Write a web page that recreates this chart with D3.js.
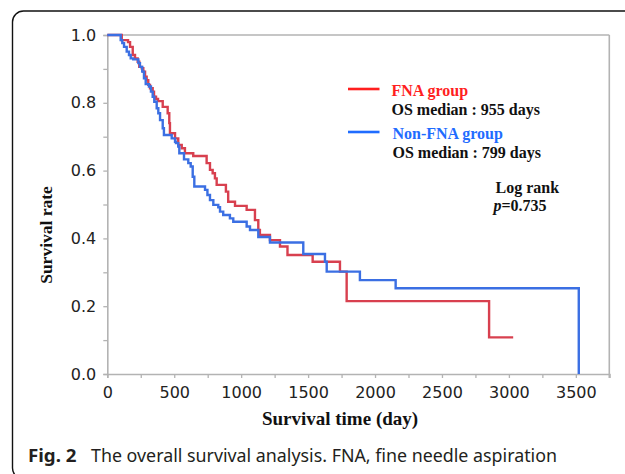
<!DOCTYPE html>
<html>
<head>
<meta charset="utf-8">
<script src="https://cdn.jsdelivr.net/npm/d3@7"></script>
<style>
  html, body { margin: 0; padding: 0; background: #fff; }
  svg { display: block; }
</style>
</head>
<body>
<svg id="chart" width="625" height="474"></svg>
<script>
// ---------------- data ----------------
// FNA group: times (days) at which survival steps, and survival after each step
const fnaTimes = [0, 108, 155, 170, 190, 207, 227, 239, 257, 269, 282, 294, 306, 319, 339, 349, 364, 379, 414, 451, 463, 468, 506, 530, 556, 580, 642, 742, 767, 787, 804, 817, 886, 903, 954, 1041, 1103, 1128, 1140, 1215, 1290, 1346, 1534, 1738, 1788, 2852, 3032];
const fnaSurv  = [1.0, 0.985, 0.979, 0.965, 0.941, 0.931, 0.921, 0.906, 0.902, 0.892, 0.877, 0.867, 0.853, 0.843, 0.833, 0.818, 0.811, 0.805, 0.788, 0.769, 0.740, 0.710, 0.695, 0.676, 0.666, 0.651, 0.643, 0.622, 0.602, 0.592, 0.577, 0.558, 0.538, 0.508, 0.496, 0.484, 0.454, 0.425, 0.410, 0.395, 0.376, 0.351, 0.331, 0.302, 0.215, 0.108, 0.108];

// Non-FNA group
const nonFnaTimes = [0, 100, 112, 125, 145, 162, 175, 194, 232, 244, 261, 274, 287, 311, 326, 339, 351, 369, 381, 394, 414, 423, 481, 506, 513, 530, 538, 573, 605, 623, 638, 650, 730, 748, 767, 792, 829, 842, 866, 916, 941, 1041, 1066, 1128, 1215, 1464, 1626, 1639, 1887, 2154, 3522];
const nonFnaSurv  = [1.0, 0.985, 0.976, 0.965, 0.951, 0.941, 0.931, 0.928, 0.917, 0.906, 0.892, 0.872, 0.855, 0.848, 0.833, 0.818, 0.803, 0.784, 0.769, 0.749, 0.725, 0.705, 0.695, 0.685, 0.681, 0.671, 0.651, 0.633, 0.622, 0.612, 0.582, 0.553, 0.543, 0.528, 0.513, 0.499, 0.492, 0.479, 0.469, 0.459, 0.449, 0.435, 0.425, 0.404, 0.388, 0.354, 0.331, 0.302, 0.277, 0.253, 0.0];

const xDomain = [0, 3750];
const yDomain = [0, 1];
const xTickValues = [0, 250, 500, 750, 1000, 1250, 1500, 1750, 2000, 2250, 2500, 2750, 3000, 3250, 3500, 3750];
const xTickLabels = [0, 500, 1000, 1500, 2000, 2500, 3000, 3500];
const yTickValues = [0, 0.1, 0.2, 0.3, 0.4, 0.5, 0.6, 0.7, 0.8, 0.9, 1.0];
const yTickLabels = [0, 0.2, 0.4, 0.6, 0.8, 1.0];

const groupNames = ["FNA group", "Non-FNA group"];
const medianTexts = ["OS median : 955 days", "OS median : 799 days"];
const xTitle = "Survival time (day)";
const yTitle = "Survival rate";
const captionBold = "Fig. 2";
const captionText = "The overall survival analysis. FNA, fine needle aspiration";

// ---------------- drawing ----------------
(function () {
const svg = d3.select("#chart");
const pLeft = 107.3, pRight = 609.3, pTop = 35, pBottom = 374;

const x = d3.scaleLinear().domain(xDomain).range([pLeft, pRight]);
const y = d3.scaleLinear().domain(yDomain).range([pBottom, pTop]);

// outer rounded frame
svg.append("rect")
  .attr("x", 12.5).attr("y", 11).attr("width", 700).attr("height", 468)
  .attr("rx", 11).attr("ry", 11)
  .attr("fill", "none").attr("stroke", "#111").attr("stroke-width", 1.4);

const axisColor = "#b3b3b3";
const tickFont = "'DejaVu Sans', Verdana, sans-serif";

// top and right plot borders
svg.append("line").attr("x1", pLeft).attr("x2", pRight).attr("y1", pTop).attr("y2", pTop)
  .attr("stroke", axisColor).attr("stroke-width", 1.6);
svg.append("line").attr("x1", pRight).attr("x2", pRight).attr("y1", pTop).attr("y2", pBottom + 4)
  .attr("stroke", axisColor).attr("stroke-width", 1.6);

// x axis
const xAxis = d3.axisBottom(x)
  .tickValues(xTickValues)
  .tickSize(4)
  .tickPadding(9)
  .tickFormat(d => xTickLabels.includes(d) ? String(d) : "");
const gx = svg.append("g").attr("transform", `translate(0,${pBottom})`).call(xAxis);
gx.select(".domain").attr("stroke", axisColor).attr("stroke-width", 1.6);
gx.selectAll(".tick line").attr("stroke", axisColor).attr("stroke-width", 1.3);
gx.selectAll(".tick text").attr("fill", "#222").style("font-family", tickFont).style("font-size", "16px");

// y axis
const yAxis = d3.axisLeft(y)
  .tickValues(yTickValues)
  .tickSize(4)
  .tickPadding(7)
  .tickFormat(d => yTickLabels.some(v => Math.abs(v - d) < 1e-9) ? d3.format(".1f")(d) : "");
const gy = svg.append("g").attr("transform", `translate(${pLeft},0)`).call(yAxis);
gy.select(".domain").attr("stroke", axisColor).attr("stroke-width", 1.6);
gy.selectAll(".tick line").attr("stroke", axisColor).attr("stroke-width", 1.3);
gy.selectAll(".tick text").attr("fill", "#222").style("font-family", tickFont).style("font-size", "16px");

// curves
const line = d3.line().x(d => x(d[0])).y(d => y(d[1])).curve(d3.curveStepAfter);
const fnaData = fnaTimes.map((t, i) => [t, fnaSurv[i]]);
const nonFnaData = nonFnaTimes.map((t, i) => [t, nonFnaSurv[i]]);

svg.append("path").datum(fnaData).attr("d", line)
  .attr("fill", "none").attr("stroke", "#d8404f").attr("stroke-width", 2.4);
svg.append("path").datum(nonFnaData).attr("d", line)
  .attr("fill", "none").attr("stroke", "#3b6fe3").attr("stroke-width", 2.4);

// axis titles
const serif = "'Liberation Serif', 'Times New Roman', serif";
svg.append("text").attr("x", 340).attr("y", 425)
  .attr("text-anchor", "middle")
  .style("font-family", serif).style("font-weight", "bold").style("font-size", "19px")
  .attr("fill", "#111").text(xTitle);
svg.append("text").attr("transform", "translate(51.5,235) rotate(-90)")
  .attr("text-anchor", "middle")
  .style("font-family", serif).style("font-weight", "bold").style("font-size", "17.5px")
  .attr("fill", "#111").text(yTitle);

// legend
const legendColors = ["#ff1f1f", "#1f6cff"];
const legendLineY = [89, 132];
const legendTextY = [95.5, 138.5];
const medianY = [114.5, 157.5];
groupNames.forEach((g, i) => {
  svg.append("line").attr("x1", 348).attr("x2", 379.5)
    .attr("y1", legendLineY[i]).attr("y2", legendLineY[i])
    .attr("stroke", legendColors[i]).attr("stroke-width", 2.6);
  svg.append("text").attr("x", 391.5 + i).attr("y", legendTextY[i])
    .style("font-family", serif).style("font-weight", "bold").style("font-size", "16px")
    .attr("fill", legendColors[i]).text(g);
  svg.append("text").attr("x", 391.5 + i).attr("y", medianY[i])
    .style("font-family", serif).style("font-weight", "bold").style("font-size", "16px")
    .attr("fill", "#111").text(medianTexts[i]);
});

svg.append("text").attr("x", 495.5).attr("y", 193)
  .style("font-family", serif).style("font-weight", "bold").style("font-size", "16px")
  .attr("fill", "#111").text("Log rank");
const pt = svg.append("text").attr("x", 493.5).attr("y", 211)
  .style("font-family", serif).style("font-weight", "bold").style("font-size", "16px")
  .attr("fill", "#111");
pt.append("tspan").style("font-style", "italic").text("p");
pt.append("tspan").text("=0.735");

// caption
const capFont = "'Noto Sans', 'Open Sans', sans-serif";
svg.append("text").attr("x", 28).attr("y", 461.5)
  .style("font-family", capFont).style("font-weight", "bold").style("font-size", "18.5px")
  .attr("fill", "#231f20")
  .attr("textLength", 48.5).attr("lengthAdjust", "spacingAndGlyphs")
  .text(captionBold);
svg.append("text").attr("x", 91).attr("y", 461.5)
  .style("font-family", capFont).style("font-size", "18.5px")
  .attr("fill", "#231f20")
  .attr("textLength", 466).attr("lengthAdjust", "spacingAndGlyphs")
  .text(captionText);
})();
</script>
</body>
</html>
